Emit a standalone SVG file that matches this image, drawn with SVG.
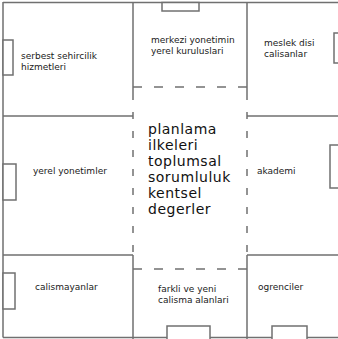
<svg xmlns="http://www.w3.org/2000/svg" width="338" height="339" viewBox="0 0 338 339">
<style>
.ln{stroke:#707070;stroke-width:1.5;fill:none}
.dh{stroke:#707070;stroke-width:1.5;fill:none;stroke-dasharray:9 12}
.dv{stroke:#707070;stroke-width:1.5;fill:none;stroke-dasharray:7 12}
.bx{stroke:#707070;stroke-width:1.5;fill:#fff}
.t{font-family:"DejaVu Sans",Verdana,sans-serif;font-size:9px;fill:#1a1a1a}
.c{font-family:"DejaVu Sans",Verdana,sans-serif;font-size:14px;letter-spacing:0.5px;fill:#111}
</style>
<rect width="338" height="339" fill="#fff"/>
<g id="connectors">
<path class="ln" d="M3,2.5H338M3,2V337.5M3,337.5H338"/>
<path class="ln" d="M133,2V100M247,2V100"/>
<path class="ln" d="M3,116H133M247,116H338M3,255H133M247,255H338"/>
<path class="ln" d="M133,255V339M247,255V339"/>
<path class="dh" d="M133,87H247M133,269H247"/>
<path class="dv" d="M133,112V258M247,112V258"/>
</g>
<g id="n1"><rect class="bx" x="3" y="40" width="10" height="35"/><text class="t" x="21" y="59">serbest sehircilik</text><text class="t" x="21" y="70">hizmetleri</text></g>
<g id="n2"><rect class="bx" x="162" y="2.5" width="37" height="8.5"/><text class="t" x="151" y="43">merkezi yonetimin</text><text class="t" x="151" y="54">yerel kuruluslari</text></g>
<g id="n3"><rect class="bx" x="334" y="33" width="8" height="30"/><text class="t" x="264" y="46">meslek disi</text><text class="t" x="264" y="57">calisanlar</text></g>
<g id="n4"><rect class="bx" x="3" y="164" width="13" height="36"/><text class="t" x="33" y="174">yerel yonetimler</text></g>
<g id="n5"><text class="c" x="148" y="134">planlama</text><text class="c" x="148" y="150">ilkeleri</text><text class="c" x="148" y="166">toplumsal</text><text class="c" x="148" y="182">sorumluluk</text><text class="c" x="148" y="198">kentsel</text><text class="c" x="148" y="214">degerler</text></g>
<g id="n6"><rect class="bx" x="330" y="145" width="10" height="43"/><text class="t" x="257" y="174">akademi</text></g>
<g id="n7"><rect class="bx" x="3" y="273" width="12" height="36"/><text class="t" x="35" y="290">calismayanlar</text></g>
<g id="n8"><rect class="bx" x="167" y="326" width="43" height="15"/><text class="t" x="158" y="292">farkli ve yeni</text><text class="t" x="158" y="303">calisma alanlari</text></g>
<g id="n9"><rect class="bx" x="272" y="326" width="35" height="15"/><text class="t" x="258" y="290">ogrenciler</text></g>
</svg>
